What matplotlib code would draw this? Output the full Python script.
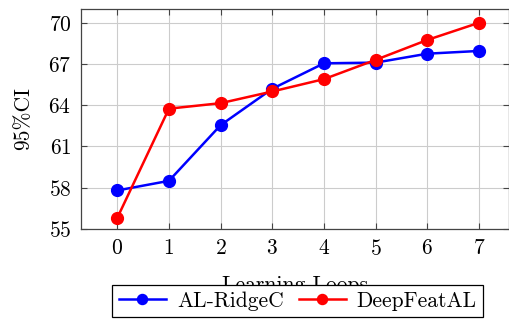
import numpy as np
import matplotlib
matplotlib.use('Agg')
import matplotlib.pyplot as plt

# data
loops = [0, 1, 2, 3, 4, 5, 6, 7]
ridge = [57.8, 58.5, 62.55, 65.2, 67.05, 67.1, 67.75, 67.95]
deepfeat = [55.8, 63.75, 64.15, 65.0, 65.9, 67.3, 68.75, 70.0]
y_ticks = [55, 58, 61, 64, 67, 70]

plt.rcParams['font.family'] = ['cmr10', 'DejaVu Serif']
plt.rcParams['axes.formatter.use_mathtext'] = True
plt.rcParams['mathtext.fontset'] = 'cm'

FS = 15.5

fig = plt.figure(figsize=(5.1, 3.22), dpi=100)
ax = fig.add_axes([0.159, 0.289, 0.839, 0.683])

ax.plot(loops, ridge, color='#0000ff', lw=1.8, marker='o', ms=8.5,
        label='AL-RidgeC', zorder=3)
ax.plot(loops, deepfeat, color='#ff0000', lw=1.8, marker='o', ms=8.5,
        label='DeepFeatAL', zorder=4)

ax.set_xlim(-0.7, 7.58)
ax.set_ylim(55, 71)
ax.set_xticks(loops)
ax.set_yticks(y_ticks)
ax.grid(True, color='#cccccc', lw=0.8)
ax.set_axisbelow(True)
ax.tick_params(direction='in', length=4, width=0.8, color='#444444',
               labelsize=FS, top=True, right=True, pad=7)
for s in ax.spines.values():
    s.set_color('#444444')
    s.set_linewidth(0.9)

ax.set_xlabel('Learning Loops', fontsize=FS, labelpad=12)
ax.set_ylabel('95%CI', fontsize=FS, labelpad=11)

# legend sits under the axes and overlaps the x label, as in the reference
leg = fig.legend(loc='upper center', bbox_to_anchor=(0.584, 0.115), ncol=2,
                 fontsize=FS, frameon=True, fancybox=False, edgecolor='black',
                 framealpha=1, handlelength=2.2, borderpad=0.3,
                 borderaxespad=0, columnspacing=0.7, handletextpad=0.5,
                 markerscale=0.85)
leg.get_frame().set_linewidth(0.9)
leg.set_zorder(5)

fig.savefig('out.png', dpi=100)
